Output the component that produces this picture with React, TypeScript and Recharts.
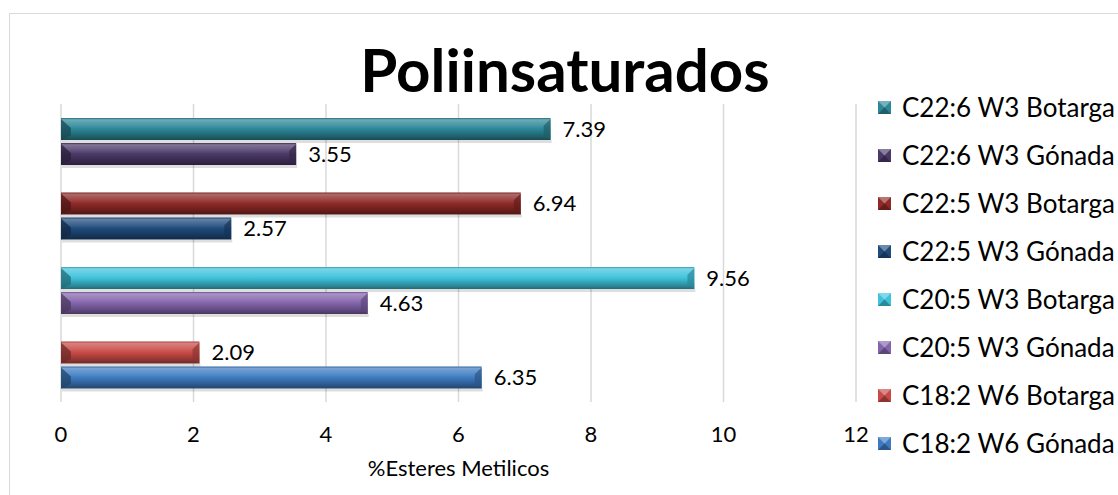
import React from 'react';
import { BarChart, Bar, XAxis, YAxis, CartesianGrid, LabelList, Cell } from 'recharts';

// categories top -> bottom, two samples per acid
const categories = ['C22:6 W3', 'C22:5 W3', 'C20:5 W3', 'C18:2 W6'];
const botarga = [7.39, 6.94, 9.56, 2.09];
const gonada = [3.55, 2.57, 4.63, 6.35];
const xTicks = [0, 2, 4, 6, 8, 10, 12];

const BOTARGA_COLORS = ['#2c8798', '#8e2927', '#3fc3dc', '#c84a47'];
const GONADA_COLORS = ['#4b3868', '#1f4a7c', '#8465ad', '#3d7bc1'];

const FONT = 'Lato, "Open Sans", sans-serif';

const chartData = categories.map((c, i) => ({
  name: c,
  botarga: botarga[i],
  gonada: gonada[i],
}));

const legendItems = categories.flatMap((c, i) => [
  { label: `${c} Botarga`, color: BOTARGA_COLORS[i] },
  { label: `${c} Gónada`, color: GONADA_COLORS[i] },
]);

// mix a hex color toward white (amt > 0) or black (amt < 0)
function shade(hex: string, amt: number) {
  const n = parseInt(hex.slice(1), 16);
  let r = (n >> 16) & 255, g = (n >> 8) & 255, b = n & 255;
  const t = amt > 0 ? 255 : 0;
  const p = Math.abs(amt);
  r = Math.round(r + (t - r) * p);
  g = Math.round(g + (t - g) * p);
  b = Math.round(b + (t - b) * p);
  return `rgb(${r},${g},${b})`;
}

const BevelBar = (props: any) => {
  const { x, y, width, height, fill, index, dataKey } = props;
  if (!width || width <= 0) return null;
  const id = `grad-${dataKey}-${index}`;
  const b = height * 0.45;
  const w = width;
  const h = height;
  return (
    <g>
      <defs>
        <linearGradient id={id} x1="0" y1="0" x2="0" y2="1">
          <stop offset="0%" stopColor={shade(fill, -0.2)} />
          <stop offset="8%" stopColor={shade(fill, 0.3)} />
          <stop offset="35%" stopColor={shade(fill, 0.12)} />
          <stop offset="50%" stopColor={fill} />
          <stop offset="85%" stopColor={shade(fill, -0.3)} />
          <stop offset="100%" stopColor={shade(fill, -0.45)} />
        </linearGradient>
      </defs>
      <rect x={x + 1} y={y + h} width={w} height={3} fill="#000" opacity={0.13} />
      <rect x={x} y={y} width={w} height={h} fill={`url(#${id})`} />
      <polygon
        points={`${x},${y + 1} ${x + b},${y + h * 0.45} ${x + b},${y + h * 0.8} ${x},${y + h}`}
        fill={shade(fill, -0.45)}
        opacity={0.75}
      />
      <polygon
        points={`${x + w},${y + 1} ${x + w},${y + h} ${x + w - b * 0.7},${y + h * 0.8} ${x + w - b * 0.7},${y + h * 0.35}`}
        fill={shade(fill, -0.3)}
        opacity={0.7}
      />
    </g>
  );
};

const ChartLegend = () => (
  <div style={{ position: 'absolute', left: 878, top: 83, fontFamily: FONT }}>
    {legendItems.map((it) => (
      <div
        key={it.label}
        style={{ height: 48, display: 'flex', alignItems: 'center', fontSize: 26, color: '#000', whiteSpace: 'nowrap' }}
      >
        <svg width={13} height={13} style={{ marginRight: 11 }}>
          <rect x={0} y={0} width={13} height={13} fill={it.color} />
          <polygon points="0,0 13,0 6.5,6.5" fill={shade(it.color, 0.35)} />
          <polygon points="0,13 13,13 6.5,6.5" fill={shade(it.color, -0.3)} />
        </svg>
        {it.label}
      </div>
    ))}
  </div>
);

export default function App() {
  return (
    <div style={{ position: 'absolute', left: 0, top: 0, width: 1118, height: 495, overflow: 'hidden', background: '#fff' }}>
      <div
        style={{
          position: 'absolute',
          left: 9,
          top: 13,
          width: 1200,
          height: 600,
          border: '1.5px solid #d9d9d9',
        }}
      />
      <BarChart
        width={1118}
        height={495}
        data={chartData}
        layout="vertical"
        margin={{ top: 104, right: 262, left: 61, bottom: 13 }}
        barSize={22}
        barGap={3}
        style={{ position: 'absolute', left: 0, top: 0 }}
      >
        <CartesianGrid horizontal={false} stroke="#d9d9d9" strokeWidth={1.5} />
        <XAxis
          type="number"
          domain={[0, 12]}
          ticks={xTicks}
          axisLine={false}
          tickLine={false}
          tickSize={0}
          tickMargin={24}
          height={80}
          tick={{ fill: '#000', fontSize: 22, fontFamily: FONT }}
          label={{
            value: '%Esteres Metilicos',
            position: 'insideBottom',
            offset: 6,
            fill: '#000',
            fontSize: 22,
            fontFamily: FONT,
          }}
        />
        <YAxis type="category" dataKey="name" hide />
        <Bar dataKey="botarga" shape={<BevelBar />} isAnimationActive={false}>
          {chartData.map((d, i) => (
            <Cell key={d.name} fill={BOTARGA_COLORS[i]} />
          ))}
          <LabelList dataKey="botarga" position="right" offset={12} fill="#000" fontSize={22} fontFamily={FONT} />
        </Bar>
        <Bar dataKey="gonada" shape={<BevelBar />} isAnimationActive={false}>
          {chartData.map((d, i) => (
            <Cell key={d.name} fill={GONADA_COLORS[i]} />
          ))}
          <LabelList dataKey="gonada" position="right" offset={12} fill="#000" fontSize={22} fontFamily={FONT} />
        </Bar>
      </BarChart>
      <ChartLegend />
      <svg width={1118} height={110} style={{ position: 'absolute', left: 0, top: 0, pointerEvents: 'none' }}>
        <text x={565} y={92} textAnchor="middle" fontFamily={FONT} fontWeight={700} fontSize={60} fill="#000">
          Poliinsaturados
        </text>
      </svg>
    </div>
  );
}
